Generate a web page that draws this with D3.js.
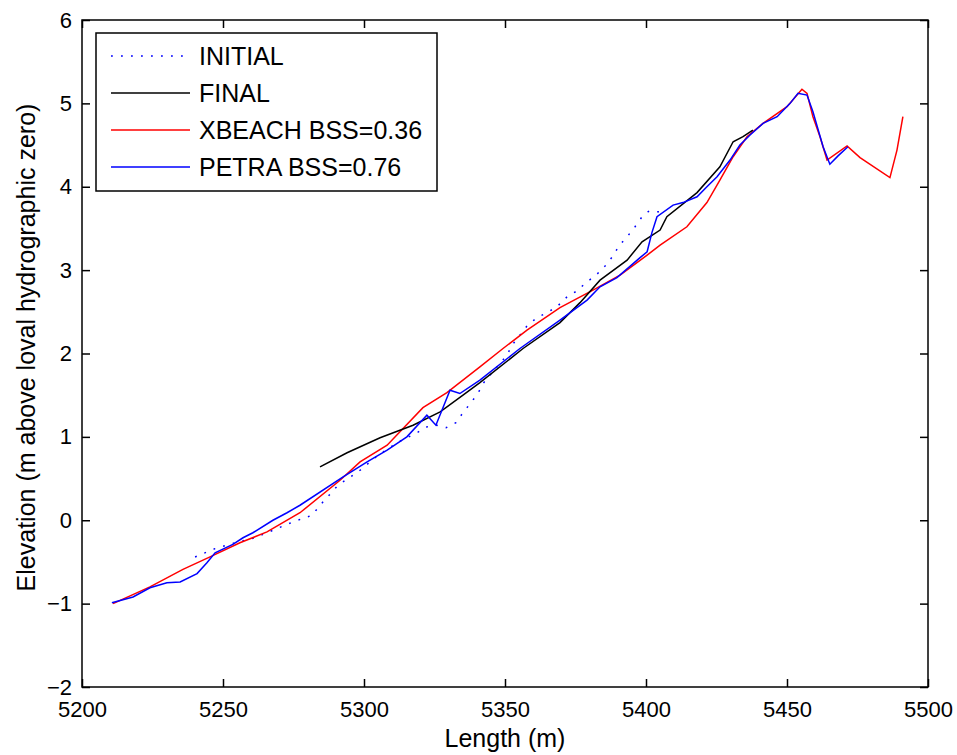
<!DOCTYPE html>
<html>
<head>
<meta charset="utf-8">
<script src="https://cdn.jsdelivr.net/npm/d3@7"></script>
<style>
  body { margin: 0; background: white; }
  text { font-family: "Liberation Sans", Arial, sans-serif; fill: #000; }
</style>
</head>
<body>
<div id="viz-container"></div>
<script>
// profile data (length in m, elevation in m)
let initialX = [5240.1, 5247.2, 5254.3, 5261.3, 5267.7, 5274.8, 5281.6, 5284.4, 5290.8, 5297.9,
                5305.0, 5311.7, 5318.8, 5322.3, 5325.9, 5329.1, 5332.6, 5335.1, 5337.9, 5340.4,
                5342.2, 5350.7, 5352.5, 5357.8, 5361.3, 5364.9, 5368.4, 5372.0, 5375.5, 5378.7,
                5382.3, 5385.5, 5388.3, 5390.4, 5393.3, 5396.1, 5398.6, 5401.1, 5404.3, 5407.4];
let initialY = [-0.44, -0.34, -0.27, -0.21, -0.12, -0.02, 0.06, 0.18, 0.42, 0.58,
                0.78, 0.93, 1.05, 1.12, 1.14, 1.11, 1.17, 1.29, 1.41, 1.52,
                1.64, 1.98, 2.10, 2.33, 2.43, 2.49, 2.56, 2.68, 2.75, 2.85,
                2.94, 3.05, 3.17, 3.29, 3.40, 3.52, 3.64, 3.71, 3.70, 3.67];

let finalX = [5284.4, 5294.0, 5305.7, 5317.4, 5327.0, 5335.1, 5341.1, 5356.4, 5369.5, 5376.6,
              5383.7, 5393.3, 5398.6, 5405.0, 5407.4, 5418.1, 5426.2, 5430.9, 5434.4, 5437.9];
let finalY = [0.64, 0.81, 0.99, 1.14, 1.30, 1.50, 1.65, 2.06, 2.37, 2.61,
              2.88, 3.12, 3.34, 3.48, 3.64, 3.93, 4.24, 4.54, 4.60, 4.68];

let xbeachX = [5211.0, 5224.1, 5235.8, 5245.4, 5256.0, 5265.6, 5277.3, 5291.5, 5298.6, 5308.2,
               5320.9, 5329.4, 5341.1, 5349.3, 5357.8, 5369.5, 5381.2, 5390.8, 5400.4, 5405.0,
               5414.5, 5421.6, 5426.2, 5430.9, 5435.8, 5441.5, 5450.0, 5455.3, 5457.1, 5459.2,
               5461.7, 5464.2, 5471.3, 5475.9, 5486.5, 5489.0, 5491.1];
let xbeachY = [-1.00, -0.80, -0.59, -0.44, -0.27, -0.14, 0.09, 0.48, 0.70, 0.90,
               1.35, 1.53, 1.84, 2.06, 2.28, 2.55, 2.76, 2.94, 3.18, 3.30,
               3.52, 3.81, 4.08, 4.36, 4.60, 4.76, 4.96, 5.17, 5.12, 4.84,
               4.60, 4.32, 4.49, 4.35, 4.11, 4.44, 4.84];

let petraX = [5210.6, 5218.1, 5224.1, 5230.1, 5234.8, 5240.8, 5244.3, 5247.2, 5253.5, 5257.1,
              5260.6, 5267.7, 5272.7, 5277.3, 5292.6, 5301.1, 5308.2, 5315.2, 5322.3, 5325.5,
              5330.5, 5334.0, 5341.1, 5355.3, 5369.5, 5379.1, 5383.7, 5389.7, 5397.9, 5400.4,
              5402.1, 5403.9, 5409.6, 5413.1, 5418.1, 5421.6, 5425.2, 5429.8, 5433.3, 5436.9,
              5441.5, 5446.5, 5451.1, 5453.9, 5457.1, 5459.2, 5462.8, 5465.2, 5468.1, 5471.6];
let petraY = [-0.99, -0.92, -0.81, -0.75, -0.74, -0.64, -0.51, -0.39, -0.29, -0.21,
              -0.15, 0.00, 0.09, 0.18, 0.52, 0.70, 0.84, 1.00, 1.26, 1.14,
              1.56, 1.52, 1.68, 2.06, 2.40, 2.64, 2.80, 2.91, 3.15, 3.22,
              3.45, 3.64, 3.78, 3.81, 3.88, 4.00, 4.12, 4.32, 4.50, 4.62,
              4.76, 4.84, 5.00, 5.12, 5.10, 4.90, 4.48, 4.27, 4.37, 4.48];

let xTicks = [5200, 5250, 5300, 5350, 5400, 5450, 5500];
let yTicks = [-2, -1, 0, 1, 2, 3, 4, 5, 6];
let legendLabels = ["INITIAL", "FINAL", "XBEACH BSS=0.36", "PETRA BSS=0.76"];

// svg and plot box
let w = 957, h = 755;
let plotLeft = 82, plotRight = 928, plotTop = 20, plotBottom = 687;

let viz = d3.select("#viz-container")
                .append("svg")
                    .attr("width", w)
                    .attr("height", h)
                    .style("background-color", "white")
;

let xScale = d3.scaleLinear().domain([5200, 5500]).range([plotLeft, plotRight]);
let yScale = d3.scaleLinear().domain([-2, 6]).range([plotBottom, plotTop]);

function zipped(xs, ys){
    return xs.map(function(x, i){ return [x, ys[i]]; });
}

let lineMaker = d3.line()
                    .x(function(d){ return xScale(d[0]); })
                    .y(function(d){ return yScale(d[1]); })
;

let series = [
    {pts: zipped(initialX, initialY), color: "#0000ff", dash: "1.8,8.2"},
    {pts: zipped(xbeachX, xbeachY), color: "#ff0000", dash: null},
    {pts: zipped(finalX, finalY), color: "#000000", dash: null},
    {pts: zipped(petraX, petraY), color: "#0000ff", dash: null}
];

viz.selectAll(".profile").data(series).enter().append("path")
    .attr("class", "profile")
    .attr("d", function(d){ return lineMaker(d.pts); })
    .attr("fill", "none")
    .attr("stroke", function(d){ return d.color; })
    .attr("stroke-width", 1.5)
    .attr("stroke-dasharray", function(d){ return d.dash; })
;

// axes: ticks point inward on all four sides
let axB = viz.append("g").attr("transform", "translate(0," + plotBottom + ")")
    .call(d3.axisBottom(xScale).tickValues(xTicks).tickSizeInner(-8).tickSizeOuter(0).tickPadding(14).tickFormat(d3.format("d")));
let axT = viz.append("g").attr("transform", "translate(0," + plotTop + ")")
    .call(d3.axisTop(xScale).tickValues(xTicks).tickSizeInner(-8).tickSizeOuter(0).tickFormat(""));
let axL = viz.append("g").attr("transform", "translate(" + plotLeft + ",0)")
    .call(d3.axisLeft(yScale).tickValues(yTicks).tickSizeInner(-8).tickSizeOuter(0).tickPadding(10).tickFormat(d3.format("d")));
let axR = viz.append("g").attr("transform", "translate(" + plotRight + ",0)")
    .call(d3.axisRight(yScale).tickValues(yTicks).tickSizeInner(-8).tickSizeOuter(0).tickFormat(""));

[axB, axT, axL, axR].forEach(function(a){
    a.select(".domain").remove();
    a.selectAll("line").attr("stroke", "#000").attr("stroke-width", 1.5);
    a.selectAll("text").style("font-size", "22px").style("font-family", "Liberation Sans, Arial, sans-serif").attr("fill", "#000");
});

viz.append("rect")
    .attr("x", plotLeft).attr("y", plotTop)
    .attr("width", plotRight - plotLeft).attr("height", plotBottom - plotTop)
    .attr("fill", "none").attr("stroke", "#000").attr("stroke-width", 1.5)
;

// axis titles
viz.append("text")
    .text("Length (m)")
    .attr("x", (plotLeft + plotRight) / 2)
    .attr("y", 747)
    .attr("text-anchor", "middle")
    .style("font-size", "25px")
;
viz.append("text")
    .text("Elevation (m above loval hydrographic zero)")
    .attr("transform", "translate(35," + ((plotTop + plotBottom) / 2 - 6) + ") rotate(-90)")
    .attr("text-anchor", "middle")
    .style("font-size", "25px")
;

// legend
let legend = viz.append("g").attr("transform", "translate(96,33)");
legend.append("rect")
    .attr("width", 341).attr("height", 158)
    .attr("fill", "white").attr("stroke", "#000").attr("stroke-width", 1.5)
;
let legendColors = ["#0000ff", "#000000", "#ff0000", "#0000ff"];
let legendDash = ["1.8,8.2", null, null, null];

let rows = legend.selectAll(".row").data(legendLabels).enter().append("g")
    .attr("class", "row")
    .attr("transform", function(d, i){ return "translate(0," + (23 + i * 37) + ")"; })
;
rows.append("line")
    .attr("x1", 15).attr("x2", 94)
    .attr("stroke", function(d, i){ return legendColors[i]; })
    .attr("stroke-width", 1.5)
    .attr("stroke-dasharray", function(d, i){ return legendDash[i]; })
;
rows.append("text")
    .text(function(d){ return d; })
    .attr("x", 103)
    .attr("y", 9)
    .style("font-size", "25px")
;
</script>
</body>
</html>
